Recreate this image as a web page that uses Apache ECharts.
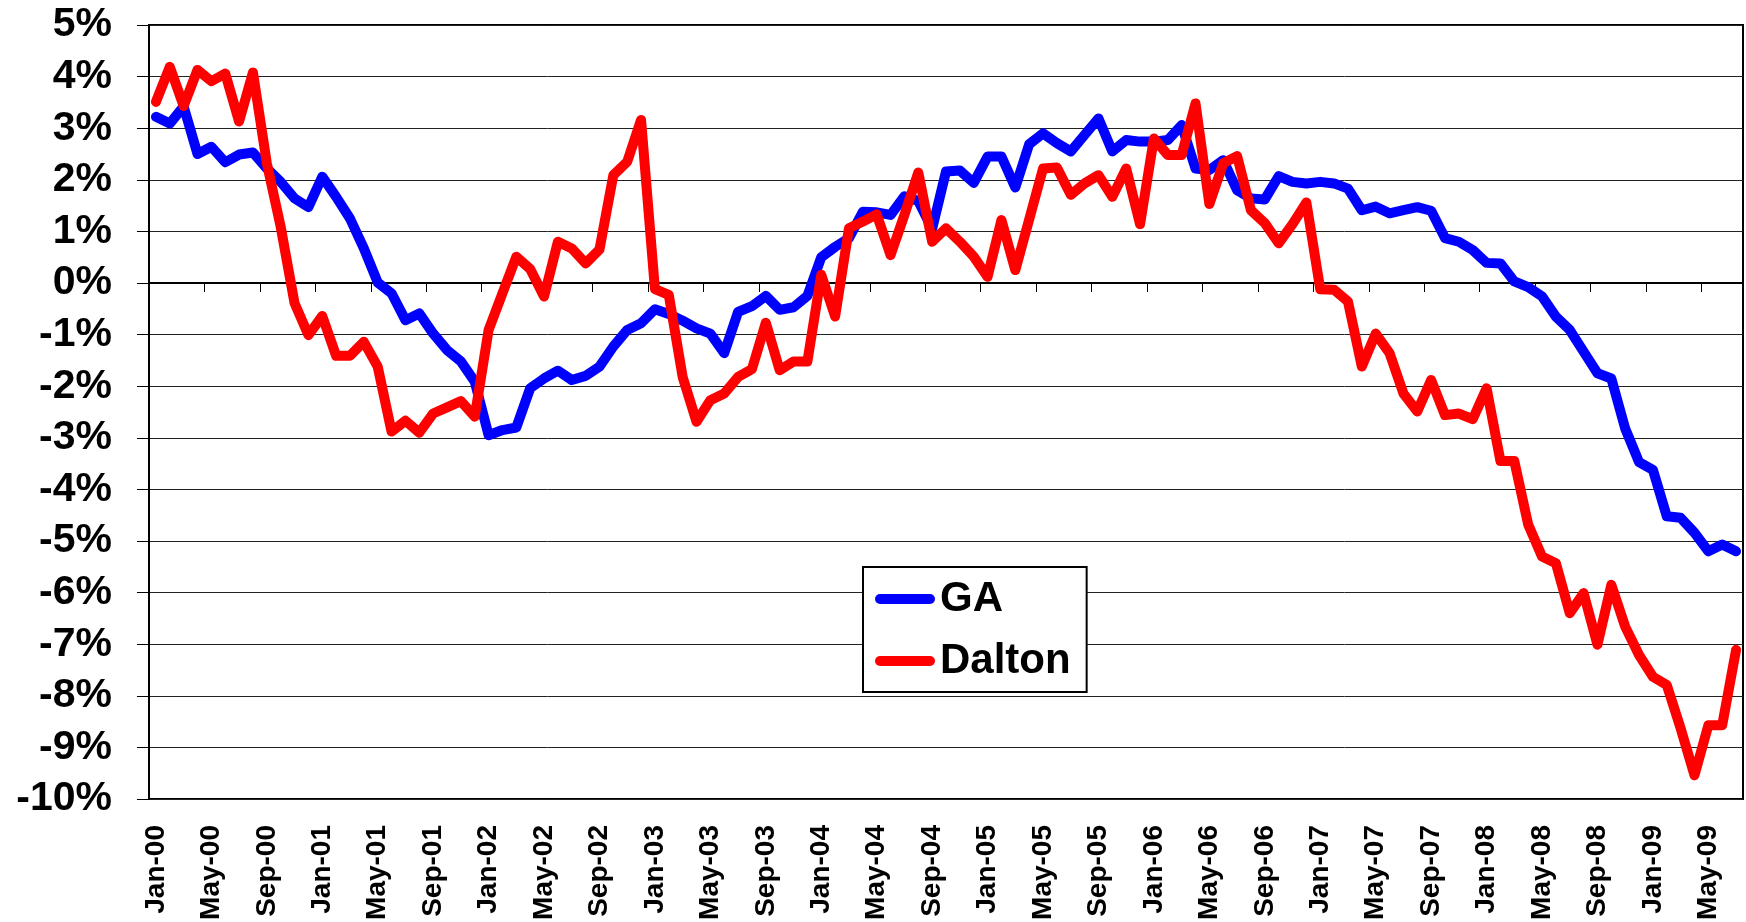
<!DOCTYPE html>
<html>
<head>
<meta charset="utf-8">
<script src="https://cdn.jsdelivr.net/npm/echarts@6/dist/echarts.min.js"></script>
<style>
html,body{margin:0;padding:0;background:#fff;}
#chart{width:1746px;height:922px;}
</style>
</head>
<body>
<div id="chart"></div>
<script>
// ---- data ----
const monthNames = ['Jan','Feb','Mar','Apr','May','Jun','Jul','Aug','Sep','Oct','Nov','Dec'];
const yearLabels = ['00','01','02','03','04','05','06','07','08','09'];
const lastYearMonths = 7; // Jan-09 .. Jul-09

const gaValues = [
  3.22, 3.09, 3.42, 2.50, 2.64, 2.34, 2.49, 2.53, 2.22, 1.96, 1.64, 1.47,
  2.06, 1.67, 1.25, 0.67, 0.01, -0.20, -0.72, -0.59, -0.98, -1.30, -1.52, -1.91,
  -2.95, -2.85, -2.80, -2.04, -1.85, -1.70, -1.88, -1.80, -1.62, -1.23, -0.91, -0.78,
  -0.51, -0.60, -0.73, -0.88, -0.98, -1.36, -0.56, -0.45, -0.25, -0.52, -0.47, -0.25,
  0.50, 0.70, 0.87, 1.38, 1.37, 1.32, 1.68, 1.59, 1.05, 2.16, 2.18, 1.94,
  2.45, 2.45, 1.85, 2.69, 2.90, 2.71, 2.55, 2.87, 3.19, 2.55, 2.77, 2.74,
  2.74, 2.77, 3.06, 2.22, 2.19, 2.38, 1.80, 1.64, 1.62, 2.07, 1.96, 1.93,
  1.96, 1.93, 1.83, 1.41, 1.48, 1.35, 1.41, 1.47, 1.40, 0.87, 0.80, 0.64,
  0.39, 0.38, 0.03, -0.08, -0.26, -0.65, -0.91, -1.33, -1.75, -1.85, -2.82, -3.47,
  -3.62, -4.52, -4.55, -4.84, -5.20, -5.07, -5.20
];

const daltonValues = [
  3.51, 4.19, 3.43, 4.13, 3.91, 4.06, 3.13, 4.08, 2.32, 1.09, -0.39, -1.01,
  -0.64, -1.41, -1.41, -1.14, -1.62, -2.88, -2.67, -2.90, -2.53, -2.41, -2.29, -2.59,
  -0.91, -0.20, 0.51, 0.27, -0.26, 0.80, 0.67, 0.38, 0.65, 2.09, 2.35, 3.16,
  -0.12, -0.23, -1.82, -2.69, -2.27, -2.14, -1.82, -1.67, -0.77, -1.69, -1.52, -1.52,
  0.16, -0.65, 1.06, 1.19, 1.33, 0.54, 1.32, 2.14, 0.80, 1.06, 0.80, 0.51,
  0.12, 1.22, 0.25, 1.23, 2.22, 2.24, 1.71, 1.93, 2.09, 1.67, 2.22, 1.14,
  2.80, 2.48, 2.48, 3.48, 1.53, 2.32, 2.46, 1.41, 1.16, 0.77, 1.14, 1.56,
  -0.12, -0.13, -0.36, -1.62, -0.98, -1.36, -2.14, -2.49, -1.88, -2.56, -2.53, -2.64,
  -2.04, -3.45, -3.45, -4.68, -5.30, -5.43, -6.40, -6.01, -7.01, -5.85, -6.66, -7.21,
  -7.63, -7.79, -8.63, -9.54, -8.57, -8.57, -7.11
];

const yMin = -10, yMax = 5, yStep = 1;

// category labels (Mon-YY)
const categories = [];
yearLabels.forEach((yy, yi) => {
  const n = (yi === yearLabels.length - 1) ? lastYearMonths : 12;
  for (let m = 0; m < n; m++) categories.push(monthNames[m] + '-' + yy);
});

const FONT = "'Liberation Sans', Arial, Helvetica, sans-serif";
const chart = echarts.init(document.getElementById('chart'), null, {renderer: 'canvas'});

chart.setOption({
  animation: false,
  backgroundColor: '#ffffff',
  grid: {
    left: 149, right: 3, top: 25, bottom: 123,
    containLabel: false,
    outerBoundsMode: 'none',
    show: true, borderColor: '#000', borderWidth: 2, backgroundColor: 'transparent'
  },
  legend: {
    data: ['GA', 'Dalton'],
    orient: 'vertical',
    left: 863, top: 567,
    padding: [7, 16, 6, 12],
    itemGap: 12,
    itemWidth: 60,
    itemHeight: 10,
    icon: 'path://M5,0 H55 A5,5 0 0 1 55,10 H5 A5,5 0 0 1 5,0 Z',
    backgroundColor: '#fff',
    borderColor: '#000',
    borderWidth: 2,
    textStyle: {fontFamily: FONT, fontWeight: 'bold', fontSize: 42, color: '#000', lineHeight: 50}
  },
  xAxis: {
    type: 'category',
    data: categories,
    boundaryGap: true,
    axisLine: {show: true, lineStyle: {color: '#000', width: 2}},
    axisTick: {show: true, interval: 3, length: 9, lineStyle: {color: '#000', width: 1}},
    axisLabel: {
      interval: 3, rotate: 90, margin: 26,
      fontFamily: FONT, fontWeight: 'bold', fontSize: 28, color: '#000'
    },
    splitLine: {show: false}
  },
  yAxis: {
    type: 'value',
    min: yMin, max: yMax, interval: yStep,
    axisLine: {show: true, lineStyle: {color: '#000', width: 2}},
    axisTick: {show: true, length: 12, lineStyle: {color: '#000', width: 1}},
    axisLabel: {
      formatter: '{value}%', margin: 37,
      fontFamily: FONT, fontWeight: 'bold', fontSize: 41, color: '#000'
    },
    splitLine: {show: true, lineStyle: {color: '#222', width: 1}}
  },
  series: [
    {
      name: 'GA', type: 'line', data: gaValues,
      symbol: 'none', showSymbol: false,
      color: '#0000ff',
      lineStyle: {color: '#0000ff', width: 10, cap: 'round', join: 'round'}
    },
    {
      name: 'Dalton', type: 'line', data: daltonValues,
      symbol: 'none', showSymbol: false,
      color: '#ff0000',
      lineStyle: {color: '#ff0000', width: 10, cap: 'round', join: 'round'}
    }
  ]
});
</script>
</body>
</html>
